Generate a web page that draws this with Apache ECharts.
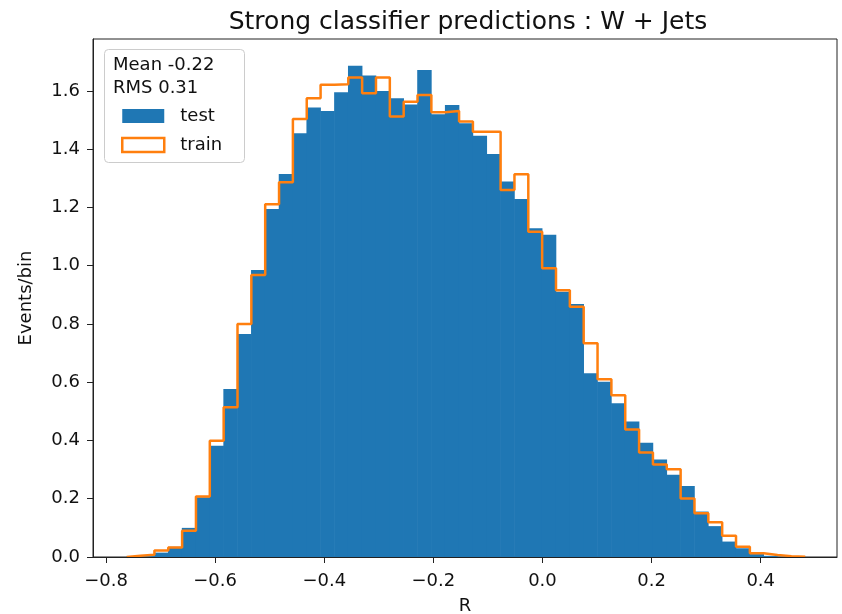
<!DOCTYPE html>
<html>
<head>
<meta charset="utf-8">
<script src="https://cdn.jsdelivr.net/npm/echarts@6/dist/echarts.min.js"></script>
<style>
  html, body { margin: 0; padding: 0; background: #ffffff; }
  #chart { width: 842px; height: 614px; }
</style>
</head>
<body>
<div id="chart"></div>
<script>
// Binning of the classifier output R (49 equal-width bins)
const binLow = -0.762;
const binWidth = 0.02538;

// Normalised events per bin, test sample
const testValues = [
  0.002, 0.005, 0.015, 0.035, 0.100, 0.205, 0.382, 0.577, 0.766, 0.985,
  1.195, 1.315, 1.455, 1.543, 1.531, 1.596, 1.687, 1.653, 1.600, 1.575,
  1.554, 1.672, 1.520, 1.552, 1.489, 1.446, 1.384, 1.289, 1.229, 1.129,
  1.106, 0.911, 0.869, 0.631, 0.602, 0.528, 0.465, 0.392, 0.335, 0.282,
  0.244, 0.156, 0.106, 0.053, 0.030, 0.010, 0.004, 0.002, 0.001
];

// Normalised events per bin, training sample
const trainValues = [
  0.004, 0.008, 0.022, 0.033, 0.090, 0.208, 0.399, 0.514, 0.800, 0.968,
  1.211, 1.287, 1.504, 1.575, 1.621, 1.623, 1.646, 1.592, 1.646, 1.512,
  1.563, 1.586, 1.527, 1.531, 1.495, 1.460, 1.460, 1.260, 1.314, 1.117,
  0.991, 0.916, 0.859, 0.734, 0.610, 0.555, 0.438, 0.359, 0.318, 0.301,
  0.201, 0.150, 0.119, 0.073, 0.035, 0.013, 0.007, 0.003, 0.001
];

const xTicks = [-0.8, -0.6, -0.4, -0.2, 0.0, 0.2, 0.4];
const yTicks = [0.0, 0.2, 0.4, 0.6, 0.8, 1.0, 1.2, 1.4, 1.6];
const statsLines = ['Mean -0.22', 'RMS 0.31'];
const titleText = 'Strong classifier predictions : W + Jets';

const FONT = "'DejaVu Sans', sans-serif";
const INK = '#111111';
const FRAME = '#222222';
const BLUE = '#1f77b4';
const ORANGE = '#ff7f0e';

const fmt = v => {
  const s = Math.abs(v).toFixed(1);
  return v < -1e-9 ? '\u2212' + s : s;
};

// Filled bars: [index, lowEdge, highEdge, value]
const testData = testValues.map((v, i) => [i, binLow + i * binWidth, binLow + (i + 1) * binWidth, v]);

// Step outline: rises from zero at the first edge, drops to zero at the last edge
const trainData = [[binLow, 0]];
trainValues.forEach((v, i) => trainData.push([binLow + i * binWidth, v]));
trainData.push([binLow + trainValues.length * binWidth, 0]);

const chart = echarts.init(document.getElementById('chart'), null, { renderer: 'canvas' });

chart.setOption({
  animation: false,
  backgroundColor: '#ffffff',
  textStyle: { fontFamily: FONT },
  title: {
    text: titleText,
    left: 463,
    top: 5,
    textAlign: 'center',
    textStyle: { fontFamily: FONT, fontSize: 25, fontWeight: 'normal', color: INK }
  },
  grid: {
    left: 93, top: 39, width: 744, height: 518,
    outerBoundsMode: 'none',
    containLabel: false,
    show: true, borderColor: FRAME, borderWidth: 1, backgroundColor: 'transparent'
  },
  legend: {
    orient: 'vertical',
    left: 121,
    top: 107,
    padding: 0,
    itemWidth: 42,
    itemHeight: 14,
    itemGap: 11,
    selectedMode: false,
    z: 20,
    textStyle: { fontFamily: FONT, fontSize: 18, color: INK, lineHeight: 18, padding: [0, 0, 0, 11] },
    data: [
      { name: 'test', icon: 'rect', itemStyle: { color: BLUE } },
      { name: 'train', icon: 'rect', itemStyle: { color: '#ffffff', borderColor: ORANGE, borderWidth: 2.5 } }
    ]
  },
  graphic: [
    {
      type: 'rect', z: 10,
      shape: { x: 104.5, y: 49.5, width: 140, height: 113, r: 4 },
      style: { fill: 'rgba(255,255,255,0.8)', stroke: '#cccccc', lineWidth: 1 }
    },
    {
      type: 'text', z: 11, x: 113, y: 65,
      style: { text: statsLines[0], fill: INK, font: '18px ' + FONT, textVerticalAlign: 'middle' }
    },
    {
      type: 'text', z: 11, x: 113, y: 88,
      style: { text: statsLines[1], fill: INK, font: '18px ' + FONT, textVerticalAlign: 'middle' }
    }
  ],
  xAxis: {
    type: 'value',
    min: -0.8238,
    max: 0.5398,
    z: 5,
    name: 'R',
    nameLocation: 'middle',
    nameGap: 40,
    nameTextStyle: { fontFamily: FONT, fontSize: 18, color: INK },
    axisLine: { onZero: false, lineStyle: { color: FRAME, width: 1 } },
    axisTick: { customValues: xTicks, length: 6, lineStyle: { color: FRAME } },
    axisLabel: { customValues: xTicks, formatter: fmt, fontFamily: FONT, fontSize: 18, color: INK, margin: 15 },
    splitLine: { show: false }
  },
  yAxis: {
    type: 'value',
    min: 0,
    max: 1.7785,
    z: 5,
    name: 'Events/bin',
    nameLocation: 'middle',
    nameGap: 58,
    nameRotate: 90,
    nameTextStyle: { fontFamily: FONT, fontSize: 18, color: INK },
    axisLine: { onZero: false, lineStyle: { color: FRAME, width: 1 } },
    axisTick: { customValues: yTicks, length: 6, lineStyle: { color: FRAME } },
    axisLabel: { customValues: yTicks, formatter: fmt, fontFamily: FONT, fontSize: 18, color: INK, margin: 13 },
    splitLine: { show: false }
  },
  series: [
    {
      name: 'test',
      type: 'custom',
      z: 2,
      itemStyle: { color: BLUE },
      encode: { x: [1, 2], y: 3 },
      data: testData,
      renderItem: (params, api) => {
        const top = api.coord([api.value(1), api.value(3)]);
        const base = api.coord([api.value(2), 0]);
        return {
          type: 'rect',
          shape: { x: top[0] - 0.3, y: top[1], width: base[0] - top[0] + 0.6, height: base[1] - top[1] },
          style: { fill: BLUE }
        };
      }
    },
    {
      name: 'train',
      type: 'line',
      z: 3,
      step: 'end',
      showSymbol: false,
      color: ORANGE,
      lineStyle: { color: ORANGE, width: 2.5 },
      data: trainData
    }
  ]
});
</script>
</body>
</html>
